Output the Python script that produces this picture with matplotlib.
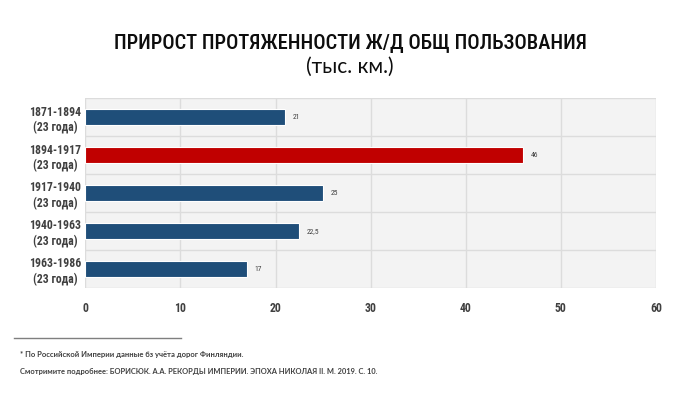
import matplotlib
matplotlib.use("Agg")
import matplotlib.pyplot as plt
from matplotlib.lines import Line2D
from matplotlib.patches import Rectangle

NARROW = ['Roboto Condensed', 'PT Sans Narrow', 'DejaVu Sans']
plt.rcParams['font.family'] = ['Lato', 'DejaVu Sans']
plt.rcParams['hatch.color'] = '#e6e6e6'
plt.rcParams['hatch.linewidth'] = 0.4

categories = ["1871-1894\n(23 года)", "1894-1917\n(23 года)", "1917-1940\n(23 года)",
              "1940-1963\n(23 года)", "1963-1986\n(23 года)"]
values = [21, 46, 25, 22.5, 17]
value_labels = ["21", "46", "25", "22,5", "17"]
colors = ["#1f4e79", "#c00000", "#1f4e79", "#1f4e79", "#1f4e79"]
xticks = [0, 10, 20, 30, 40, 50, 60]

fig = plt.figure(figsize=(7, 3.94), dpi=100)
fig.patch.set_facecolor("white")
ax = fig.add_axes([0.122, 0.269, 0.815, 0.482])
ax.set_facecolor("#f3f3f3")
ax.add_patch(Rectangle((0, 0), 1, 1, transform=ax.transAxes, facecolor="none",
                       edgecolor="none", hatch="//////", zorder=0))

ypos = list(range(len(values)))
ax.barh(ypos, values, height=0.42, color=colors, edgecolor="white", linewidth=0.8, zorder=3)
for y, v, lab in zip(ypos, values, value_labels):
    ax.text(v + 0.8, y, lab, va="center", ha="left", fontsize=5.5, color="#404040",
            family=NARROW, zorder=4)

ax.set_xlim(0, 60)
ax.set_ylim(len(values) - 0.5, -0.5)
ax.set_xticks(xticks)
ax.set_xticklabels([str(t) for t in xticks], fontsize=8.5, fontweight="bold", color="#404040",
                   family=NARROW)
ax.set_yticks(ypos)
ax.set_yticklabels(categories, fontsize=8.5, fontweight="bold", color="#404040", linespacing=1.25,
                   family=NARROW, ha="center")
ax.tick_params(axis="both", length=0)
ax.tick_params(axis="x", pad=10)
ax.tick_params(axis="y", pad=22)
ax.set_yticks([i + 0.5 for i in range(-1, len(values))], minor=True)
ax.grid(True, axis="x", color="#dcdcdc", linewidth=1, zorder=1)
ax.grid(True, axis="y", which="minor", color="#dcdcdc", linewidth=1, zorder=1)
ax.grid(False, axis="y", which="major")
ax.tick_params(axis="y", which="minor", length=0)
ax.set_axisbelow(True)
for s in ax.spines.values():
    s.set_visible(False)

fig.text(0.5, 0.89, "ПРИРОСТ ПРОТЯЖЕННОСТИ Ж/Д ОБЩ ПОЛЬЗОВАНИЯ", ha="center", va="center",
         fontsize=14.8, fontweight="medium", color="#0d0d0d", family=NARROW)
fig.text(0.5, 0.83, "(тыс. км.)", ha="center", va="center", fontsize=15, color="#0d0d0d")

fig.add_artist(Line2D([0.02, 0.258], [0.142, 0.142], color="#7f7f7f", linewidth=1))
fig.text(0.028, 0.099, "* По Российской Империи данные бз учёта дорог Финляндии.", fontsize=5.5,
         fontweight="bold", color="#404040", va="center")
fig.text(0.028, 0.056, "Смотримите подробнее: БОРИСЮК. А.А. РЕКОРДЫ ИМПЕРИИ. ЭПОХА НИКОЛАЯ II. М. 2019. С. 10.",
         fontsize=5.4, fontweight="bold", color="#404040", va="center")

fig.savefig("out.png", dpi=100)
